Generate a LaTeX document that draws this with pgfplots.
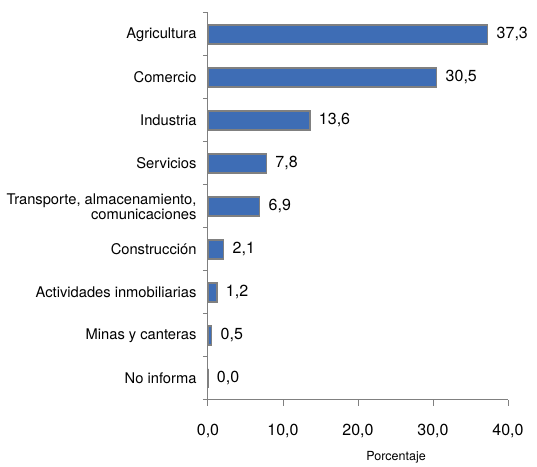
\documentclass[border=0pt]{standalone}
\usepackage{fontspec}
\setmainfont{TeX Gyre Heros}
\usepackage{pgfplots}
\pgfplotsset{compat=1.18}
\definecolor{barblue}{HTML}{3E6DB5}
\definecolor{axgray}{HTML}{808080}
\begin{document}
\begin{tikzpicture}
\begin{axis}[
    xbar,
    scale only axis,
    width=300pt, height=387pt,
    y dir=reverse,
    xmin=0, xmax=40,
    ymin=-0.5, ymax=8.5,
    bar width=19pt,
    axis x line*=bottom,
    axis y line*=left,
    axis line style={axgray, line width=1pt},
    xtick={0,10,20,30,40},
    xticklabels={{0,0},{10,0},{20,0},{30,0},{40,0}},
    x tick label style={font=\fontsize{16}{18}\selectfont, yshift=-15pt},
    ytick={0,...,8},
    yticklabels={Agricultura,Comercio,Industria,Servicios,{Transporte, almacenamiento,\\comunicaciones},Construcción,Actividades inmobiliarias,Minas y canteras,No informa},
    y tick label style={font=\fontsize{14.7}{15}\selectfont, align=right, xshift=-2pt},
    major y tick style={draw=none},
    minor ytick={-0.5,0.5,...,8.5},
    minor y tick style={axgray, line width=1pt},
    major x tick style={axgray, line width=1pt},
    tick align=outside,
    major tick length=6pt,
    minor tick length=5pt,
    xlabel={Porcentaje},
    xlabel style={font=\fontsize{12.5}{14}\selectfont, at={(axis description cs:0.627,0)}, anchor=north, yshift=-48pt},
    nodes near coords,
    point meta=explicit symbolic,
    nodes near coords style={font=\fontsize{16}{18}\selectfont, anchor=west, xshift=5pt},
    clip=false,
]
\addplot[fill=barblue, draw=axgray, line width=1.3pt] coordinates {
(37.3,0) [37,3]
(30.5,1) [30,5]
(13.6,2) [13,6]
(7.8,3) [7,8]
(6.9,4) [6,9]
(2.1,5) [2,1]
(1.2,6) [1,2]
(0.5,7) [0,5]
(0.0,8) [0,0]
};
\end{axis}
% blank margins as in the original
\path ([yshift=13pt,xshift=-208pt]current axis.north west);
\path ([yshift=-61pt,xshift=29pt]current axis.south east);
\end{tikzpicture}
\end{document}
